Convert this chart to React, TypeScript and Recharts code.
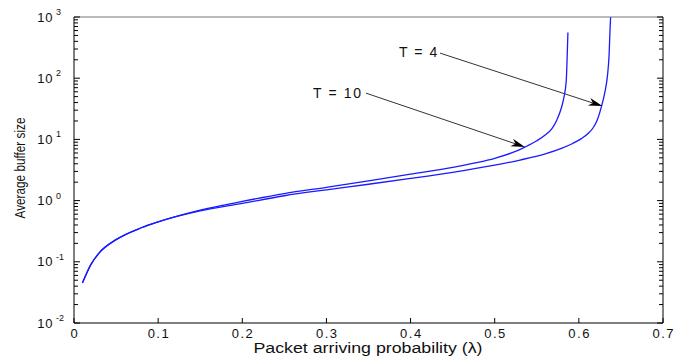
import { LineChart, Line, XAxis, YAxis, ReferenceLine, ReferenceDot } from "recharts";

// packet arriving probability (lambda) vs average buffer size
const lambdaT10 = [0.01, 0.02, 0.03, 0.05, 0.08, 0.1, 0.15, 0.2, 0.25, 0.3, 0.35, 0.4, 0.45, 0.48, 0.5, 0.52, 0.536, 0.55, 0.56, 0.568, 0.574, 0.579, 0.582, 0.585, 0.586, 0.587];
const bufferT10 = [0.045, 0.09, 0.14, 0.23, 0.36, 0.45, 0.7, 0.97, 1.3, 1.65, 2.1, 2.7, 3.5, 4.2, 4.9, 6.0, 7.5, 9.5, 11.8, 15, 21, 32, 47, 90, 200, 560];

const lambdaT4 = [0.01, 0.02, 0.03, 0.05, 0.08, 0.1, 0.15, 0.2, 0.25, 0.3, 0.35, 0.4, 0.45, 0.5, 0.53, 0.56, 0.58, 0.592, 0.603, 0.611, 0.617, 0.622, 0.627, 0.631, 0.634, 0.636, 0.637, 0.638];
const bufferT4 = [0.045, 0.09, 0.14, 0.23, 0.36, 0.45, 0.68, 0.9, 1.2, 1.5, 1.85, 2.3, 2.9, 3.8, 4.6, 5.8, 7.2, 8.5, 10.3, 12.5, 15.5, 21, 35, 60, 110, 250, 600, 1200];

const xTicks = [0, 0.1, 0.2, 0.3, 0.4, 0.5, 0.6, 0.7];
const yMajor = [0.01, 0.1, 1, 10, 100, 1000];
const yExponents = ["-2", "-1", "0", "1", "2", "3"];
const minorSteps = [2, 3, 4, 5, 6, 7, 8, 9];

const seriesLabels = ["T = 10", "T = 4"];
// label centre, arrow start and arrow tip in data coords
const labelAt = [[0.3126, 57], [0.409, 268]];
const arrowFrom = [[0.347, 57], [0.435, 257]];
const arrowTo = [[0.536, 7.5], [0.628, 35]];

const toPoints = (xs: number[], ys: number[]) => xs.map((x, i) => ({ x, y: ys[i] }));
const dataT10 = toPoints(lambdaT10, bufferT10);
const dataT4 = toPoints(lambdaT4, bufferT4);

const yTicks = [
  ...yMajor,
  ...yMajor.slice(0, -1).flatMap((m) => minorSteps.map((k) => +(m * k).toPrecision(3))),
].sort((a, b) => a - b);

const W = 675;
const H = 358;
const LEFT = 74;
const TOP = 17;
const PLOT_W = 589;
const PLOT_H = 306;
const FONT = "'Liberation Sans', Arial, sans-serif";

function isMajor(v: number) {
  const e = Math.log10(v);
  return Math.abs(e - Math.round(e)) < 1e-6;
}

function LeftTick(props: any) {
  const { x, y, payload } = props;
  const v = payload.value;
  const major = isMajor(v);
  const idx = yMajor.findIndex((m) => Math.abs(Math.log10(m) - Math.log10(v)) < 1e-6);
  return (
    <g>
      <line x1={x} y1={y} x2={x + (major ? 6 : 4)} y2={y} stroke="#000" />
      {major && (
        <>
          <text x={x - 21} y={y + 4.5} textAnchor="end" fontSize={13} fontFamily={FONT} fill="#111" letterSpacing={0.6}>10</text>
          <text x={x - 18} y={y - 2} textAnchor="start" fontSize={9} fontFamily={FONT} fill="#111">{yExponents[idx]}</text>
        </>
      )}
    </g>
  );
}

function RightTick(props: any) {
  const { x, y, payload } = props;
  const major = isMajor(payload.value);
  return <line x1={x} y1={y} x2={x - (major ? 6 : 4)} y2={y} stroke="#000" />;
}

function BottomTick(props: any) {
  const { x, y, payload } = props;
  return (
    <g>
      <line x1={x} y1={y} x2={x} y2={y - 5} stroke="#000" />
      <text x={x + 0.8} y={y + 15} textAnchor="middle" fontSize={13} fontFamily={FONT} fill="#111" letterSpacing={1.5}>{payload.value}</text>
    </g>
  );
}

function TopTick(props: any) {
  const { x, y } = props;
  return <line x1={x} y1={y} x2={x} y2={y + 5} stroke="#000" />;
}

function Arrow(props: any) {
  const { x1, y1, x2, y2 } = props;
  const ang = Math.atan2(y2 - y1, x2 - x1);
  const len = 14;
  const half = 4;
  const bx = x2 - len * Math.cos(ang);
  const by = y2 - len * Math.sin(ang);
  const nx = x2 - (len - 4) * Math.cos(ang);
  const ny = y2 - (len - 4) * Math.sin(ang);
  const px = -Math.sin(ang) * half;
  const py = Math.cos(ang) * half;
  return (
    <g>
      <line x1={x1} y1={y1} x2={nx} y2={ny} stroke="#333" strokeWidth={1} />
      <polygon points={`${x2},${y2} ${bx + px},${by + py} ${nx},${ny} ${bx - px},${by - py}`} fill="#000" />
    </g>
  );
}

function TextMark(text: string) {
  return (props: any) => (
    <text x={props.cx + 0.8} y={props.cy + 5} textAnchor="middle" fontSize={14} fontFamily={FONT} fill="#111" letterSpacing={1.6}>{text}</text>
  );
}

export default function App() {
  const yMid = 168;
  return (
    <div style={{ position: "absolute", left: 0, top: 0, background: "#fff" }}>
      <LineChart width={W} height={H} margin={{ top: TOP - 1, right: W - LEFT - PLOT_W - 1, bottom: 0, left: 10 }}>
        <XAxis
          xAxisId="main"
          dataKey="x"
          type="number"
          domain={[0, 0.7]}
          ticks={xTicks}
          interval={0}
          allowDataOverflow
          height={H - TOP - PLOT_H}
          tickSize={0}
          tickMargin={0}
          tickLine={false}
          tick={<BottomTick />}
          axisLine={{ stroke: "#000" }}
          label={() => (
            <text x={LEFT + PLOT_W / 2 - 0.5} y={353} textAnchor="middle" fontSize={14} fontFamily={FONT} fill="#111" textLength={229} lengthAdjust="spacingAndGlyphs">
              Packet arriving probability (λ)
            </text>
          )}
        />
        <XAxis
          xAxisId="top"
          orientation="top"
          type="number"
          domain={[0, 0.7]}
          ticks={xTicks}
          interval={0}
          allowDataOverflow
          height={1}
          tickSize={0}
          tickMargin={0}
          tickLine={false}
          tick={<TopTick />}
          axisLine={{ stroke: "#777" }}
        />
        <YAxis
          yAxisId="main"
          scale="log"
          type="number"
          domain={[0.01, 1000]}
          ticks={yTicks}
          interval={0}
          allowDataOverflow
          width={64}
          tickSize={0}
          tickMargin={0}
          tickLine={false}
          tick={<LeftTick />}
          axisLine={{ stroke: "#000" }}
          label={() => (
            <text
              x={25}
              y={yMid}
              transform={`rotate(-90 25 ${yMid})`}
              textAnchor="middle"
              fontSize={14}
              fontFamily={FONT}
              fill="#111"
              textLength={101}
              lengthAdjust="spacingAndGlyphs"
            >
              Average buffer size
            </text>
          )}
        />
        <YAxis
          yAxisId="right"
          orientation="right"
          scale="log"
          type="number"
          domain={[0.01, 1000]}
          ticks={yTicks}
          interval={0}
          allowDataOverflow
          width={1}
          tickSize={0}
          tickMargin={0}
          tickLine={false}
          tick={<RightTick />}
          axisLine={{ stroke: "#000" }}
        />
        <Line xAxisId="main" yAxisId="main" data={dataT10} dataKey="y" type="monotone" stroke="#1a1aff" strokeWidth={1.3} dot={false} isAnimationActive={false} />
        <Line xAxisId="main" yAxisId="main" data={dataT4} dataKey="y" type="monotone" stroke="#1a1aff" strokeWidth={1.3} dot={false} isAnimationActive={false} />
        {seriesLabels.map((s, i) => (
          <ReferenceLine
            key={"a" + i}
            xAxisId="main"
            yAxisId="main"
            segment={[
              { x: arrowFrom[i][0], y: arrowFrom[i][1] },
              { x: arrowTo[i][0], y: arrowTo[i][1] },
            ]}
            shape={Arrow}
          />
        ))}
        {seriesLabels.map((s, i) => (
          <ReferenceDot key={"l" + i} xAxisId="main" yAxisId="main" x={labelAt[i][0]} y={labelAt[i][1]} r={0} shape={TextMark(s)} />
        ))}
      </LineChart>
    </div>
  );
}
